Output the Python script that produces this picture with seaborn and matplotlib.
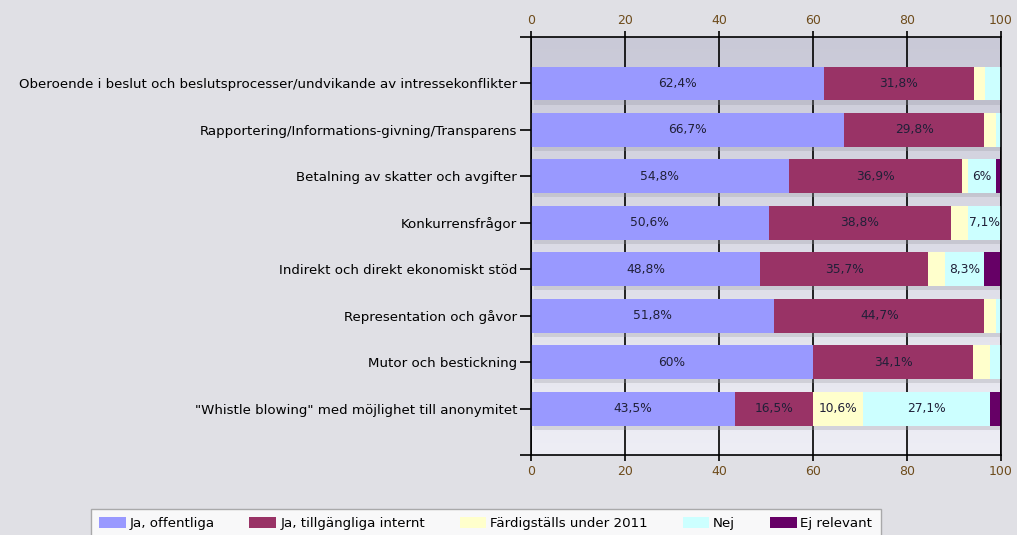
import numpy as np
import pandas as pd
import matplotlib
matplotlib.use("Agg")
import matplotlib.pyplot as plt
import matplotlib.patheffects as pe
from matplotlib.patches import Patch
import seaborn as sns

# Data
kategorier = [
    "Oberoende i beslut och beslutsprocesser/undvikande av intressekonflikter",
    "Rapportering/Informations-givning/Transparens",
    "Betalning av skatter och avgifter",
    "Konkurrensfrågor",
    "Indirekt och direkt ekonomiskt stöd",
    "Representation och gåvor",
    "Mutor och bestickning",
    "\"Whistle blowing\" med möjlighet till anonymitet",
]
serier = ["Ja, offentliga", "Ja, tillgängliga internt", "Färdigställs under 2011", "Nej", "Ej relevant"]
ja_offentliga = [62.4, 66.7, 54.8, 50.6, 48.8, 51.8, 60.0, 43.5]
ja_internt = [31.8, 29.8, 36.9, 38.8, 35.7, 44.7, 34.1, 16.5]
fardigstalls = [2.4, 2.4, 1.2, 3.5, 3.6, 2.4, 3.5, 10.6]
nej = [3.4, 1.1, 6.0, 7.1, 8.3, 1.1, 2.4, 27.1]
ej_relevant = [0.0, 0.0, 1.1, 0.0, 3.6, 0.0, 0.0, 2.3]
farger = ["#9999ff", "#993366", "#ffffcc", "#ccffff", "#660066"]

df = pd.DataFrame({"kategori": kategorier,
                   serier[0]: ja_offentliga, serier[1]: ja_internt,
                   serier[2]: fardigstalls, serier[3]: nej, serier[4]: ej_relevant})
cum = df[serier].cumsum(axis=1)

plt.rcParams["font.family"] = ["DejaVu Sans"]
fig = plt.figure(figsize=(10.17, 5.35), dpi=100, facecolor="#e0e0e5")
ax = fig.add_axes([0.5221, 0.1495, 0.4621, 0.7813])

# background gradient of the plot area
grad = np.linspace(0, 1, 256).reshape(-1, 1)
cmap = matplotlib.colors.LinearSegmentedColormap.from_list("bg", ["#c9c9d7", "#eeeef5"])
ax.imshow(grad, cmap=cmap, aspect="auto", extent=[0, 1, 0, 1], origin="upper",
          transform=ax.transAxes, zorder=0)

# stacked bars: draw cumulative totals from the longest down
for i in reversed(range(len(serier))):
    plot_df = pd.DataFrame({"kategori": kategorier, "varde": cum[serier[i]]})
    sns.barplot(data=plot_df, x="varde", y="kategori", color=farger[i], orient="h",
                width=0.73, saturation=1, ax=ax, legend=False, zorder=2)

# soft shadow on the full bars only
n = len(kategorier)
for p in ax.patches[:n]:
    p.set_path_effects([pe.SimplePatchShadow(offset=(2, -3), shadow_rgbFace="#9c9ca6", alpha=0.3),
                        pe.Normal()])

# value labels
for j in range(n):
    left = 0
    for s in serier:
        v = df.loc[j, s]
        if v >= 5:
            txt = (f"{v:.1f}".rstrip("0").rstrip(".")).replace(".", ",") + "%"
            ax.text(left + v / 2, j, txt, ha="center", va="center", fontsize=8.8,
                    color="#202038", zorder=5)
        left += v

ax.set_xlim(0, 100)
ax.set_ylim(8, -1)
ax.set_xticks([0, 20, 40, 60, 80, 100])
ax.set_yticks(range(n))
ax.set_yticklabels(kategorier, fontsize=9.6)
ax.set_yticks([-1, 8], minor=True)
ax.set_xlabel("")
ax.set_ylabel("")
ax.set_axisbelow(True)
ax.xaxis.grid(True, color="black", lw=1.2, zorder=1)
ax.yaxis.grid(False)
ax.tick_params(axis="x", top=True, labeltop=True, bottom=True, labelbottom=True,
               length=4, width=1.2, labelsize=9, labelcolor="#6e4c1c", pad=3)
ax.tick_params(axis="y", which="both", length=8, width=1.2, pad=2)
for sp in ax.spines.values():
    sp.set_color("black")
    sp.set_linewidth(1.2)

handles = [Patch(facecolor=c, edgecolor="none") for c in farger]
leg = fig.legend(handles, serier, loc="upper left",
                 bbox_to_anchor=(91 / 1017, 1 - 509 / 535), ncol=5, fontsize=9.6,
                 frameon=True, fancybox=False, edgecolor="#999999", facecolor="white",
                 handlelength=2.0, handleheight=0.9, handletextpad=0.3, columnspacing=2.6,
                 borderpad=0.6, borderaxespad=0)
leg.get_frame().set_linewidth(1)

fig.savefig("out.png", dpi=100, facecolor=fig.get_facecolor())
